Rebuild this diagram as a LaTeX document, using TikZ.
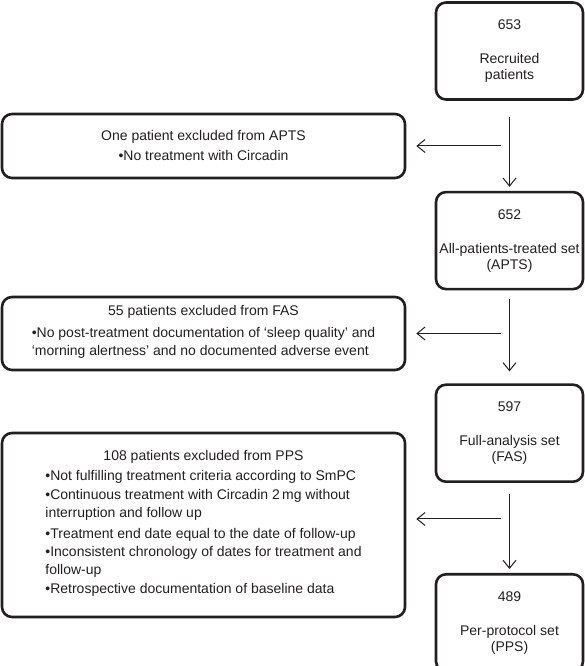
\documentclass[tikz,border=0pt]{standalone}
\usepackage{fontspec}
\setmainfont{Liberation Sans}
\usetikzlibrary{positioning, arrows.meta}
\definecolor{ink}{HTML}{231F20}
\tikzset{%
  setbox/.style={draw=ink, text=ink, line width=2.6pt, rounded corners=10pt,
    minimum width=147pt, minimum height=97pt, inner sep=0pt, align=center,
    font=\fontsize{14}{16}\selectfont}, % the four sets on the right
  exclbox/.style={draw=ink, text=ink, line width=2.6pt, rounded corners=10pt,
    minimum width=403pt, inner sep=0pt, align=center,
    font=\fontsize{14}{18}\selectfont}, % the exclusion boxes on the left
  flowline/.style={draw=ink, line width=1pt,
    -{Straight Barb[length=8pt, width=13pt, line width=1pt]}}
}

\begin{document}
\begin{tikzpicture}[node distance=90pt]
\useasboundingbox (0,0) rectangle (585pt,666pt);

\node[setbox] (recruited) at (509.5pt,615pt) {653\\[18pt]Recruited\\patients};
\node[setbox, below=of recruited] (apts) {652\\[18pt]All-patients-treated set\\(APTS)};
\node[setbox, below=93pt of apts] (fas) {597\\[18pt]Full-analysis set\\(FAS)};
\node[setbox, below=of fas] (pps) {489\\[18pt]Per-protocol set\\(PPS)};

\node[exclbox, minimum height=64pt] (exclapts) at (203.5pt,520pt)
  {One patient excluded from APTS\\[2pt]•No treatment with Circadin};
\node[exclbox, minimum height=73pt] (exclfas) at (203.5pt,332.5pt)
  {55 patients excluded from FAS\\[4pt]%
   \begin{tabular}[t]{@{}l@{}}
   •No post-treatment documentation of ‘sleep quality’ and\\
   ‘morning alertness’ and no documented adverse event
   \end{tabular}};
\node[exclbox, minimum height=184pt] (exclpps) at (203.5pt,141pt)
  {108 patients excluded from PPS\\[2pt]%
   \begin{tabular}[t]{@{}l@{}}
   •Not fulfilling treatment criteria according to SmPC\\[1pt]
   •Continuous treatment with Circadin 2\,mg without\\
   interruption and follow up\\[3pt]
   •Treatment end date equal to the date of follow-up\\
   •Inconsistent chronology of dates for treatment and\\
   follow-up\\[1pt]
   •Retrospective documentation of baseline data
   \end{tabular}};

\draw[flowline, shorten <=16pt, shorten >=4pt] (recruited) -- (apts);
\draw[flowline, shorten <=9pt, shorten >=12pt] (apts) -- (fas);
\draw[flowline, shorten <=11pt, shorten >=4pt] (fas) -- (pps);

\draw[flowline, shorten <=9pt, shorten >=10pt] (exclapts.east -| recruited.south) -- (exclapts.east);
\draw[flowline, shorten <=9pt, shorten >=10pt] (exclfas.east -| apts.south) -- (exclfas.east);
\draw[flowline, shorten <=9pt, shorten >=10pt] ([yshift=6pt]exclpps.east -| fas.south) -- ([yshift=6pt]exclpps.east);
\end{tikzpicture}
\end{document}
